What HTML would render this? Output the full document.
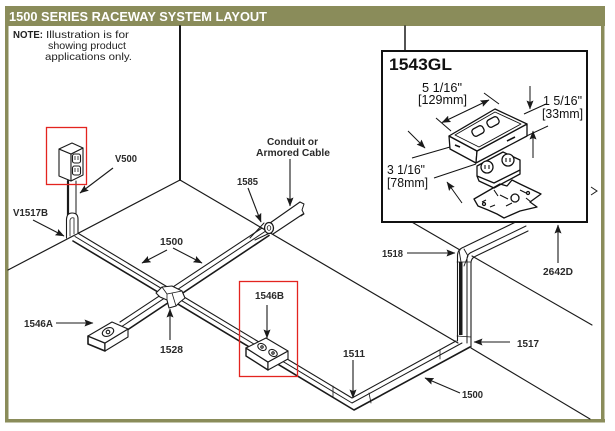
<!DOCTYPE html>
<html><head><meta charset="utf-8"><style>
html,body{margin:0;padding:0;background:#fff;}
svg{display:block;}
text{font-family:"Liberation Sans",Arial,sans-serif;}
</style></head><body>
<svg width="615" height="431" viewBox="0 0 615 431" xmlns="http://www.w3.org/2000/svg">
<defs>
<marker id="ah" markerWidth="9" markerHeight="7" refX="8.5" refY="3.5" orient="auto-start-reverse" markerUnits="userSpaceOnUse"><path d="M0,0 L9,3.5 L0,7 L1.5,3.5 z" fill="#1a1a1a"/></marker>
</defs>
<rect width="615" height="431" fill="#fff"/>

<!-- frame -->
<rect x="5" y="6" width="600" height="20" fill="#8a8c5a"/>
<rect x="5" y="25" width="3.5" height="397" fill="#8a8c5a"/>
<rect x="601" y="25" width="3.5" height="397" fill="#8a8c5a"/>
<rect x="5" y="419" width="600" height="3.5" fill="#8a8c5a"/>
<text x="9" y="21" font-size="13" font-weight="bold" fill="#fff" textLength="258" lengthAdjust="spacingAndGlyphs">1500 SERIES RACEWAY SYSTEM LAYOUT</text>

<!-- note -->
<text x="13" y="38" font-size="10.5" font-weight="bold" fill="#222" textLength="30" lengthAdjust="spacingAndGlyphs">NOTE:</text>
<text x="46" y="38" font-size="10.5" fill="#222" textLength="83" lengthAdjust="spacingAndGlyphs">Illustration is for</text>
<text x="48" y="49" font-size="10.5" fill="#222" textLength="78" lengthAdjust="spacingAndGlyphs">showing product</text>
<text x="45" y="60" font-size="10.5" fill="#222" textLength="87" lengthAdjust="spacingAndGlyphs">applications only.</text>

<!-- walls / floor -->
<g stroke="#1a1a1a" fill="none" stroke-linecap="round">
<line x1="180" y1="26" x2="180" y2="180" stroke-width="2"/>
<line x1="180" y1="180" x2="8" y2="270" stroke-width="1.2"/>
<line x1="180" y1="180" x2="458" y2="343" stroke-width="1.2"/>
<line x1="405" y1="26" x2="405" y2="52" stroke-width="1.5"/>
<line x1="398" y1="214" x2="460" y2="250" stroke-width="1.1"/>
<line x1="472" y1="256" x2="592" y2="325" stroke-width="1.1"/>
<line x1="471" y1="348" x2="590" y2="419" stroke-width="1.1"/>
</g>

<!-- main raceway -->
<g stroke="#1a1a1a" fill="none" stroke-linejoin="round" stroke-linecap="round">
<path d="M76,232 L352,398 L456,341" stroke-width="1.1"/>
<path d="M75,236.5 L352,403 L462,343" stroke-width="1"/>
<path d="M73,241 L354,410 L470,347" stroke-width="1.6"/>
<!-- vertical run -->
<path d="M457.5,341 L457.5,255 Q458,249 464,247 L524,218" stroke-width="1.1"/>
<rect x="459" y="262" width="3.5" height="73" fill="#1a1a1a" stroke="none"/>
<path d="M467,343 L467,259 Q467,254 472,252 L526,226" stroke-width="1"/>
<path d="M471,347 L471,263 Q471,258 476,256 L528,231" stroke-width="1.1"/>
<line x1="457" y1="262" x2="471" y2="262" stroke-width="0.8"/>
<line x1="457" y1="336" x2="471" y2="337" stroke-width="0.8"/>
<path d="M459,250 L462,268 M464,249 L468,256 L464,266" stroke-width="0.9"/>
<!-- joints -->
<line x1="333" y1="386" x2="333" y2="397" stroke-width="0.8"/>
<line x1="369" y1="393" x2="371" y2="403" stroke-width="0.8"/>
<line x1="440" y1="350" x2="440" y2="359" stroke-width="0.8"/>
<!-- cross raceway -->
<path d="M120,322 L262,228" stroke-width="1.1"/>
<path d="M121,327 L265,231.5" stroke-width="1"/>
<path d="M125,331.5 L269,235.5" stroke-width="1.6"/>
<!-- conduit -->
<path d="M270,223 L300,202" stroke-width="1.1"/>
<path d="M273,234 L303,214" stroke-width="1.1"/>
<path d="M300,202 L304,204 L302,210 L304,214 L301,216" stroke-width="1"/>
<!-- 1585 fitting -->
<path d="M250,238 L264,223 M255,240 L272,232" stroke-width="1"/>
<ellipse cx="269" cy="228" rx="4.5" ry="5.5" fill="#fff" stroke-width="1.3"/>
<ellipse cx="269" cy="228" rx="1.8" ry="2.4" stroke-width="0.8"/>
<!-- V500 conduit and elbow -->
<line x1="68" y1="181" x2="68" y2="215" stroke-width="2.2"/>
<line x1="76" y1="181" x2="76" y2="215" stroke-width="1"/>
<path d="M66.5,238 L66.5,219 Q67,213 72,213 Q78,213 78,219 L78,233" fill="#fff" stroke-width="1.1"/>
<path d="M70,236 L70,220 Q71,217 74,218 L74,234" stroke-width="0.8"/>
</g>

<!-- 1528 fitting -->
<g stroke="#1a1a1a" stroke-width="1.1" fill="#fff" stroke-linejoin="round">
<path d="M156,293 L162,287 L172,286 L182,291 L185,298 L180,302 L176,306 L169,308 L167,300 L160,297 Z"/>
<path d="M162,287 L167,294 L172,293 L182,291 M167,294 L167,300 M172,293 L176,306" fill="none" stroke-width="0.8"/>
</g>

<!-- 1546A box -->
<g stroke="#1a1a1a" stroke-width="1.1" fill="#fff" stroke-linejoin="round">
<path d="M88,336 L105,343 L105,351 L88,344 Z" stroke-width="1.6"/>
<path d="M105,343 L128,329 L128,337 L105,351 Z"/>
<path d="M88,336 L112,322 L128,329 L105,343 Z"/>
<ellipse cx="108" cy="332" rx="6" ry="4" transform="rotate(-25 108 332)"/>
<circle cx="108" cy="332" r="1.8"/>
</g>

<!-- 1546B box -->
<g stroke="#1a1a1a" stroke-width="1.1" fill="#fff" stroke-linejoin="round">
<path d="M246,348 L268,362 L268,370 L246,356 Z" stroke-width="1.4"/>
<path d="M268,362 L288,351 L288,359 L268,370 Z"/>
<path d="M246,348 L266,338 L288,351 L268,362 Z"/>
<ellipse cx="262" cy="347" rx="4.5" ry="3.2" transform="rotate(28 262 347)"/>
<ellipse cx="273" cy="353" rx="4.5" ry="3.2" transform="rotate(28 273 353)"/>
<circle cx="262" cy="347" r="1.2"/><circle cx="273" cy="353" r="1.2"/>
</g>

<!-- V500 device -->
<g stroke="#1a1a1a" stroke-width="1.1" fill="#fff" stroke-linejoin="round">
<path d="M59,149 L71,154 L71,181 L59,176 Z"/>
<path d="M71,154 L83,148 L83,175 L71,181 Z"/>
<path d="M59,149 L72,143 L83,148 L71,154 Z"/>
<rect x="72.5" y="154" width="8" height="9" rx="2"/>
<rect x="72.5" y="166" width="8" height="9" rx="2"/>
<path d="M75,156 v4 M78,156 v4 M75,168 v4 M78,168 v4" stroke-width="0.8"/>
</g>

<!-- red highlight boxes -->
<rect x="46.5" y="127.5" width="40" height="57" fill="none" stroke="#e3241f" stroke-width="1.3"/>
<rect x="239.5" y="281.5" width="58" height="95" fill="none" stroke="#e3241f" stroke-width="1.3"/>

<!-- leader arrows -->
<g stroke="#1a1a1a" stroke-width="1.1" fill="none" marker-end="url(#ah)">
<line x1="113" y1="168" x2="80" y2="193"/>
<line x1="33" y1="220" x2="64" y2="236"/>
<line x1="248" y1="188" x2="261" y2="222"/>
<line x1="290" y1="159" x2="290" y2="206"/>
<line x1="167" y1="250" x2="142" y2="263"/>
<line x1="173" y1="248" x2="202" y2="263"/>
<line x1="56" y1="323" x2="93" y2="323"/>
<line x1="170" y1="340" x2="170" y2="309"/>
<line x1="267" y1="305" x2="267" y2="338"/>
<line x1="353" y1="360" x2="353" y2="398"/>
<line x1="460" y1="393" x2="425" y2="378"/>
<line x1="510" y1="342" x2="474" y2="342"/>
<line x1="407" y1="253" x2="455" y2="253"/>
<line x1="558" y1="263" x2="558" y2="225"/>
</g>

<!-- labels -->
<g font-size="10.5" font-weight="bold" fill="#2a2a2a">
<text x="115" y="162" textLength="22" lengthAdjust="spacingAndGlyphs">V500</text>
<text x="13" y="216" textLength="35" lengthAdjust="spacingAndGlyphs">V1517B</text>
<text x="237" y="185" textLength="21" lengthAdjust="spacingAndGlyphs">1585</text>
<text x="267" y="145" textLength="51" lengthAdjust="spacingAndGlyphs">Conduit or</text>
<text x="256" y="156" textLength="74" lengthAdjust="spacingAndGlyphs">Armored Cable</text>
<text x="160" y="245" textLength="23" lengthAdjust="spacingAndGlyphs">1500</text>
<text x="24" y="327" textLength="29" lengthAdjust="spacingAndGlyphs">1546A</text>
<text x="160" y="353" textLength="23" lengthAdjust="spacingAndGlyphs">1528</text>
<text x="255" y="299" textLength="29" lengthAdjust="spacingAndGlyphs">1546B</text>
<text x="343" y="357" textLength="22" lengthAdjust="spacingAndGlyphs">1511</text>
<text x="462" y="398" textLength="21" lengthAdjust="spacingAndGlyphs">1500</text>
<text x="517" y="347" textLength="22" lengthAdjust="spacingAndGlyphs">1517</text>
<text x="382" y="257" textLength="21" lengthAdjust="spacingAndGlyphs">1518</text>
<text x="543" y="275" textLength="30" lengthAdjust="spacingAndGlyphs">2642D</text>
</g>

<!-- small > mark -->
<path d="M591,187 L597,191 L591,195" fill="none" stroke="#1a1a1a" stroke-width="1"/>

<!-- 1543GL inset -->
<rect x="382" y="51" width="205" height="171" fill="#fff" stroke="#111" stroke-width="2"/>
<text x="389" y="70" font-size="16.5" font-weight="bold" fill="#111" textLength="63" lengthAdjust="spacingAndGlyphs">1543GL</text>
<g font-size="12.5" fill="#111">
<text x="422" y="92" textLength="40" lengthAdjust="spacingAndGlyphs">5 1/16"</text>
<text x="418" y="104" textLength="49" lengthAdjust="spacingAndGlyphs">[129mm]</text>
<text x="543" y="105" textLength="39" lengthAdjust="spacingAndGlyphs">1 5/16"</text>
<text x="542" y="118" textLength="41" lengthAdjust="spacingAndGlyphs">[33mm]</text>
<text x="387" y="174" textLength="38" lengthAdjust="spacingAndGlyphs">3 1/16"</text>
<text x="387" y="187" textLength="41" lengthAdjust="spacingAndGlyphs">[78mm]</text>
</g>

<!-- dimension lines -->
<g stroke="#111" stroke-width="1" fill="none">
<line x1="436" y1="118" x2="451" y2="131"/>
<line x1="484" y1="93" x2="499" y2="104"/>
<line x1="442" y1="122.5" x2="489" y2="100" marker-start="url(#ah)" marker-end="url(#ah)"/>
<line x1="530" y1="86" x2="530" y2="109" marker-end="url(#ah)"/>
<line x1="533" y1="158" x2="533" y2="131" marker-end="url(#ah)"/>
<line x1="524" y1="114" x2="546" y2="104"/>
<line x1="518" y1="140" x2="548" y2="126"/>
<line x1="412" y1="158" x2="450" y2="147"/>
<line x1="434" y1="178" x2="476" y2="164"/>
<line x1="408" y1="131" x2="425" y2="148" marker-end="url(#ah)"/>
<line x1="462" y1="203" x2="447" y2="182" marker-end="url(#ah)"/>
</g>

<!-- device drawing -->
<g stroke="#111" stroke-width="1.3" fill="#fff" stroke-linejoin="round">
<!-- mounting plate -->
<path d="M474,199 L500,184 L507,186 L512,180 L520,184 L541,194 L530,202 L537,207 L520,211 L504,218 L497,214 L488,210 L478,206 Z"/>
<circle cx="515" cy="198" r="4"/>
<path d="M482,202 l4,-2 M490,207 l5,-2 M520,190 l6,3 M500,195 l8,4 M506,206 l6,-3 M494,190 l4,6 M526,198 l5,4" fill="none" stroke-width="1.1"/>
<circle cx="484" cy="204" r="1.5"/><circle cx="528" cy="193" r="1.5"/>
<!-- receptacle -->
<path d="M477,166 L503,152 L520,160 L520,170 L494,183 L477,176 Z"/>
<path d="M477,176 L479,181 L494,188 L520,174 L520,170" fill="none"/>
<circle cx="487" cy="167" r="6"/>
<circle cx="508" cy="160" r="6"/>
<path d="M485,165 v4 M489,165 v4 M506,158 v4 M510,158 v4" fill="none" stroke-width="1.1"/>
<!-- cover box -->
<path d="M449,136 L477,151 L476,163 L450,149 Z"/>
<path d="M477,151 L527,124 L527,136 L476,163 Z"/>
<path d="M449,136 L495,109 L527,124 L477,151 Z"/>
<path d="M455,135 L495,112 L521,124 L479,147 Z" fill="none" stroke-width="0.9"/>
<rect x="-6" y="-4" width="12" height="8" rx="3" transform="translate(478,131) rotate(-28)"/>
<rect x="-6" y="-4" width="12" height="8" rx="3" transform="translate(493,122) rotate(-28)"/>
<path d="M455,145 l5,2 M507,141 l8,-4" fill="none" stroke-width="1.6"/>
</g>
</svg>
</body></html>
